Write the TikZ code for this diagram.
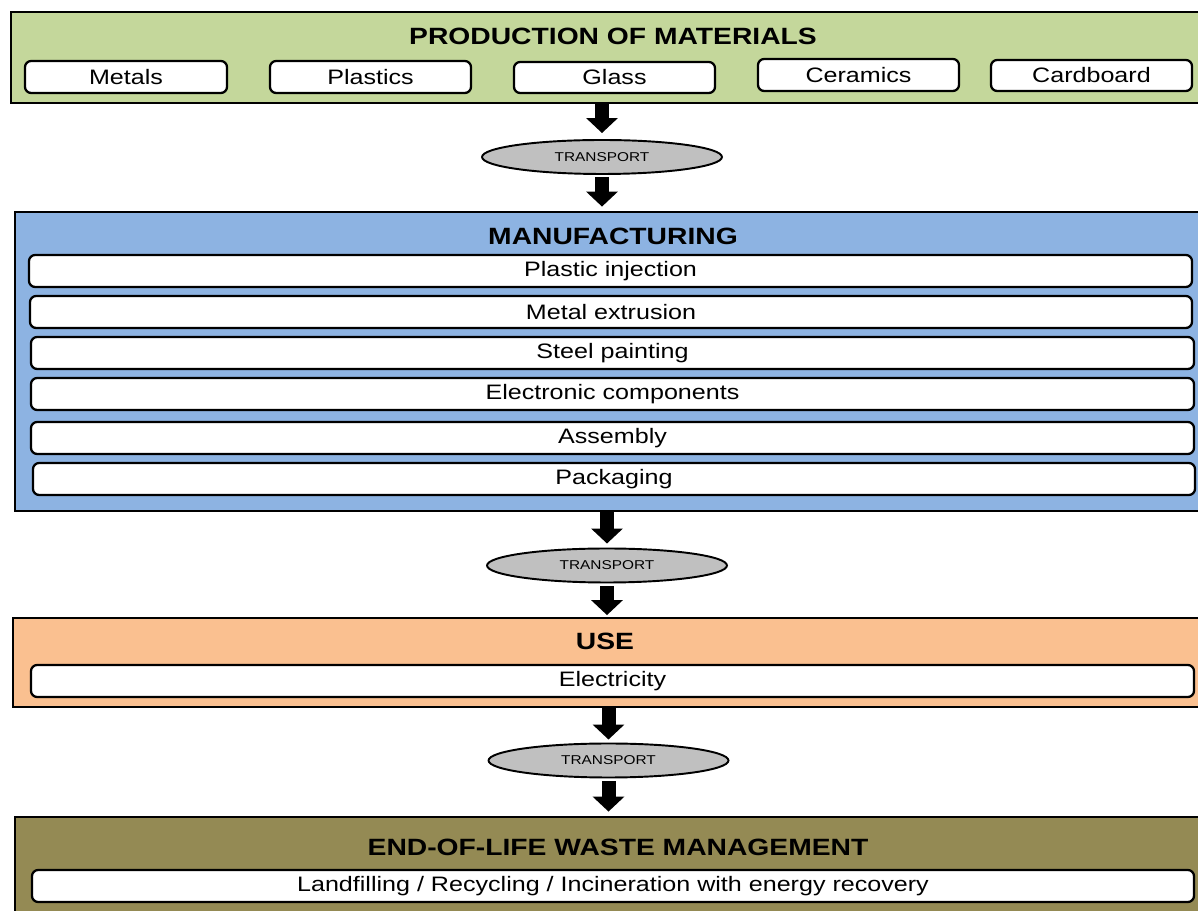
\documentclass[tikz,border=0pt]{standalone}
\usepackage{fontspec}
\setmainfont[FakeStretch=1.2]{Liberation Sans}
\usetikzlibrary{arrows.meta,shapes.geometric,fit}

\definecolor{matgreen}{HTML}{C4D79B}
\definecolor{manublue}{HTML}{8DB3E2}
\definecolor{useorange}{HTML}{FAC090}
\definecolor{eololive}{HTML}{948A54}
\definecolor{transgray}{HTML}{C0C0C0}

\begin{document}
\begin{tikzpicture}[x=0.02cm, y=-0.02cm,
    panel/.style={draw, line width=1.6pt, inner sep=0pt},
    item/.style={draw, line width=1.3pt, rounded corners=3.5pt, fill=white,
      inner sep=0pt, label={[font=\fontsize{11.9}{14}\selectfont]center:#1}},
    heading/.style={font=\bfseries\fontsize{13.4}{16}\selectfont},
    transport/.style={ellipse, draw, line width=1.1pt, fill=transgray,
      minimum width=4.8cm, minimum height=0.68cm, inner sep=0pt,
      font=\fontsize{7.3}{9}\selectfont},
    flow/.style={line width=0.28cm, -{Triangle[width=0.62cm, length=0.3cm]}}]

  \useasboundingbox (0,0) rectangle (1198,911);
  \clip (0,0) rectangle (1198,911);

  % Production of materials
  \node[panel, fill=matgreen, fit={(11,12) (1215,103)}] (mat) {};
  \node[heading] (matT) at (613,36) {PRODUCTION OF MATERIALS};
  \foreach \xa/\ya/\xb/\yb/\nm/\txt in {25/61/227/93/metals/Metals,
      270/61/471/93/plastics/Plastics, 514/62/715/93/glass/Glass,
      758/59/959/91/ceramics/Ceramics, 991/60/1192/91/cardboard/Cardboard}
    \node[item=\txt, fit={(\xa,\ya) (\xb,\yb)}] (\nm) {};

  % Transport 1
  \node[transport] (t1) at (602,157) {TRANSPORT};

  % Manufacturing
  \node[panel, fill=manublue, fit={(15,212) (1215,511)}] (manu) {};
  \node[heading] (manuT) at (613,236) {MANUFACTURING};
  \foreach \xa/\ya/\xb/\yb/\nm/\txt in {29/255/1192/287/inject/Plastic injection,
      30/296/1192/328/extrude/Metal extrusion, 31/337/1194/369/paint/Steel painting,
      31/378/1194/410/elec/Electronic components, 31/422/1194/454/assy/Assembly,
      33/463/1195/495/pack/Packaging}
    \node[item=\txt, fit={(\xa,\ya) (\xb,\yb)}] (\nm) {};

  % Transport 2
  \node[transport] (t2) at (607,565.5) {TRANSPORT};

  % Use
  \node[panel, fill=useorange, fit={(13,618) (1215,707)}] (use) {};
  \node[heading] (useT) at (605,641) {USE};
  \node[item=Electricity, fit={(31,665) (1194,697)}] (elect) {};

  % Transport 3
  \node[transport] (t3) at (608.5,760.5) {TRANSPORT};

  % End of life
  \node[panel, fill=eololive, fit={(15,817) (1215,940)}] (eol) {};
  \node[heading] (eolT) at (618,847) {END-OF-LIFE WASTE MANAGEMENT};
  \node[item={Landfilling / Recycling / Incineration with energy recovery},
    fit={(32,870) (1194,902)}] (waste) {};

  % Flow arrows
  \draw[flow, shorten >=0.12cm] (t1.north |- mat.south) -- (t1.north);
  \draw[flow, shorten <=0.04cm, shorten >=0.08cm] (t1.south) -- (t1.south |- manu.north);
  \draw[flow, shorten >=0.08cm] (t2.north |- manu.south) -- (t2.north);
  \draw[flow, shorten <=0.06cm, shorten >=0.03cm] (t2.south) -- (t2.south |- use.north);
  \draw[flow, shorten >=0.06cm] (t3.north |- use.south) -- (t3.north);
  \draw[flow, shorten <=0.06cm, shorten >=0.08cm] (t3.south) -- (t3.south |- eol.north);
\end{tikzpicture}
\end{document}
